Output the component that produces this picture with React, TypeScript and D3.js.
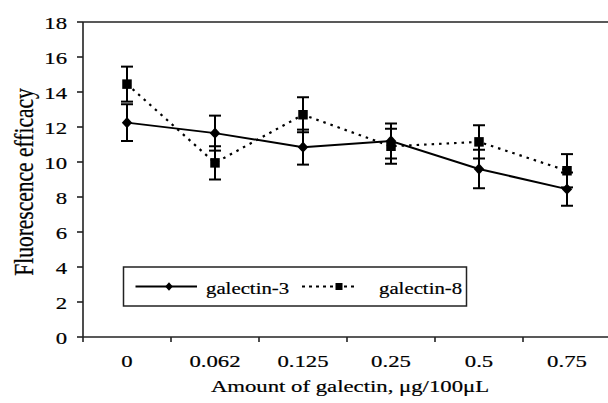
import React from 'react';
import * as d3 from 'd3';

const categories = ['0', '0.062', '0.125', '0.25', '0.5', '0.75'];
const galectin3 = [12.25, 11.65, 10.85, 11.2, 9.6, 8.45];
const galectin3Err = [1.05, 1.0, 1.0, 1.0, 1.1, 0.95];
const galectin8 = [14.45, 9.95, 12.7, 10.9, 11.15, 9.5];
const galectin8Err = [1.0, 0.95, 1.0, 1.0, 0.95, 0.95];
const yTicks = [0, 2, 4, 6, 8, 10, 12, 14, 16, 18];

const font = "'Liberation Serif', 'Times New Roman', Times, 'DejaVu Serif', serif";
const SX = 1.3; // the picture is wider than it is tall, glyphs included

const T = ({x, y, size, anchor = 'middle', rotate = 0, children}: any) => (
    <text
        transform={`translate(${x},${y}) scale(${SX},1)${rotate ? ` rotate(${rotate})` : ''}`}
        textAnchor={anchor}
        style={{fontFamily: font, fontSize: size + 'px'}}
        fill="#000"
        stroke="#000"
        strokeWidth={0.2}
    >{children}</text>
);

const Diamond = ({cx, cy, r}: any) => (
    <path d={`M${cx},${cy - r * 1.1}L${cx + r},${cy}L${cx},${cy + r * 1.1}L${cx - r},${cy}Z`} fill="#000"/>
);
const Square = ({cx, cy, s}: any) => (
    <rect x={cx - s / 2} y={cy - s / 2} width={s} height={s} fill="#000"/>
);

const App = () => {
    const margin = {top: 22, right: 0, bottom: 66, left: 83};
    const W = 608;
    const H = 403;
    const x = d3.scaleBand().domain(categories).range([margin.left, 611]);
    const y = d3.scaleLinear().domain([0, 18]).range([H - margin.bottom, margin.top]);
    const cx = (i: number) => x(categories[i])! + x.bandwidth() / 2;

    const line = d3.line<number>().x((d, i) => cx(i)).y(d => y(d));

    const errBars = (vals: number[], errs: number[], key: string) =>
        vals.map((v, i) => (
            <g key={key + i} stroke="#000" strokeWidth={2}>
                <line x1={cx(i)} x2={cx(i)} y1={y(v + errs[i])} y2={y(v - errs[i])}/>
                <line x1={cx(i) - 6} x2={cx(i) + 6} y1={y(v + errs[i])} y2={y(v + errs[i])}/>
                <line x1={cx(i) - 6} x2={cx(i) + 6} y1={y(v - errs[i])} y2={y(v - errs[i])}/>
            </g>
        ));

    const y0 = y(0);
    const bandEdges = categories.map(c => x(c)!);

    return (
        <svg width={W} height={H} style={{position: 'absolute', left: 0, top: 0, background: '#fff'}}>
            {/* frame */}
            <g stroke="#222" strokeWidth={1.6} fill="none">
                <line x1={margin.left} x2={W} y1={margin.top} y2={margin.top}/>
                <line x1={margin.left} x2={margin.left} y1={margin.top} y2={y0}/>
                <line x1={margin.left} x2={W} y1={y0} y2={y0}/>
                {yTicks.map(t => <line key={'yt' + t} x1={margin.left - 6} x2={margin.left} y1={y(t)} y2={y(t)}/>)}
                {bandEdges.map((e, i) => <line key={'xt' + i} x1={e} x2={e} y1={y0} y2={y0 + 5}/>)}
            </g>
            {yTicks.map(t => <T key={'yl' + t} x={67} y={y(t) + 7} size={17.5} anchor="end">{t}</T>)}
            {categories.map((c, i) => <T key={'xl' + c} x={cx(i)} y={366.5} size={17.5}>{c}</T>)}
            <T x={350} y={392} size={17.5}>Amount of galectin, μg/100μL</T>
            <T x={33} y={182} size={21.5} rotate={-90}>Fluorescence efficacy</T>

            {errBars(galectin3, galectin3Err, 'e3')}
            {errBars(galectin8, galectin8Err, 'e8')}

            <path d={line(galectin3)!} fill="none" stroke="#000" strokeWidth={2}/>
            <path d={line(galectin8)!} fill="none" stroke="#000" strokeWidth={2.2} strokeDasharray="2.5,5"/>

            {galectin3.map((v, i) => <Diamond key={'d' + i} cx={cx(i)} cy={y(v)} r={5.2}/>)}
            {galectin8.map((v, i) => <Square key={'s' + i} cx={cx(i)} cy={y(v)} s={9.5}/>)}

            {/* legend */}
            <rect x={123.5} y={267} width={343} height={39} fill="#fff" stroke="#222" strokeWidth={1.5}/>
            <line x1={135.5} x2={197} y1={286.5} y2={286.5} stroke="#000" strokeWidth={2}/>
            <Diamond cx={169} cy={286.5} r={3.8}/>
            <T x={206} y={293.5} size={16} anchor="start">galectin-3</T>
            <line x1={302} x2={354} y1={286.5} y2={286.5} stroke="#000" strokeWidth={2} strokeDasharray="3,4"/>
            <Square cx={339} cy={286.5} s={7}/>
            <T x={379} y={293.5} size={16} anchor="start">galectin-8</T>
        </svg>
    );
};

export default App;
